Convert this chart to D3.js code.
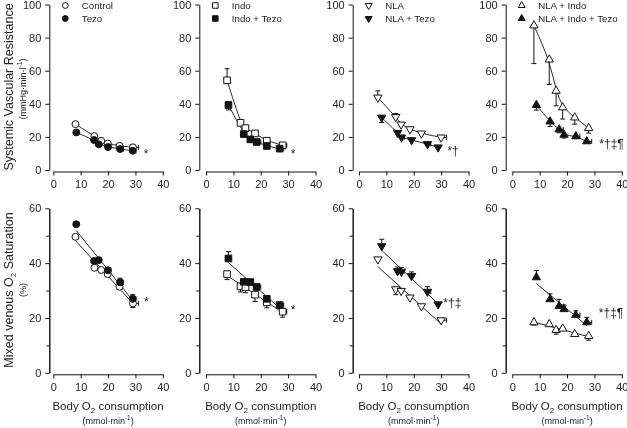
<!DOCTYPE html>
<html><head><meta charset="utf-8">
<script src="https://cdn.jsdelivr.net/npm/d3@7"></script>
<style>body{margin:0;background:#fff}svg{display:block}svg text{font-family:"Liberation Sans","DejaVu Sans",sans-serif;-webkit-font-smoothing:antialiased}</style>
</head><body><svg id="c" width="627" height="428"></svg>
<script>
// ---------- DATA ----------
const xTicks = [0, 10, 20, 30, 40];
const svrTicks = [0, 20, 40, 60, 80, 100];
const so2Ticks = [0, 20, 40, 60];
const so2Minor = [10, 30, 50];

const seriesNames = ['Control','Tezo','Indo','Indo + Tezo','NLA','NLA + Tezo','NLA + Indo','NLA + Indo + Tezo'];

// Body O2 consumption (mmol/min)
const vo2_control      = [8.1, 15.0, 17.5, 19.9, 24.2, 29.1];
const vo2_tezo         = [8.4, 14.9, 16.6, 20.0, 24.4, 29.0];
const vo2_indo         = [7.7, 12.6, 14.4, 17.9, 22.2, 28.0];
const vo2_indoTezo     = [8.2, 13.8, 16.2, 18.5, 22.2, 26.9];
const vo2_nla          = [6.9, 13.4, 15.4, 18.6, 22.8, 30.0];
const vo2_nlaTezo      = [8.3, 14.1, 15.5, 19.2, 25.0, 28.9];
const vo2_nlaIndo      = [7.9, 13.5, 16.0, 18.4, 22.8, 27.9];
const vo2_nlaIndoTezo  = [8.8, 13.8, 17.1, 18.9, 23.2, 27.2];

// Systemic vascular resistance (mmHg·min·l-1)
const svr_control      = [27.7, 20.5, 17.6, 16.0, 14.6, 13.7];
const svr_tezo         = [22.7, 18.1, 15.5, 13.9, 12.7, 11.6];
const svr_indo         = [54.2, 28.5, 25.3, 22.1, 17.7, 14.9];
const svr_indoTezo     = [39.3, 21.7, 18.5, 16.9, 14.5, 12.9];
const svr_nla          = [43.8, 32.1, 27.5, 24.7, 22.1, 19.7];
const svr_nlaTezo      = [31.7, 22.5, 19.7, 18.1, 15.7, 13.7];
const svr_nlaIndo      = [87.3, 66.7, 47.8, 37.8, 31.7, 25.3];
const svr_nlaIndoTezo  = [39.2, 29.3, 24.5, 21.3, 20.3, 17.3];

// Mixed venous O2 saturation (%)
const so2_control      = [49.6, 38.3, 37.5, 36.0, 31.4, 25.3];
const so2_tezo         = [54.2, 40.8, 41.1, 37.4, 33.0, 27.0];
const so2_indo         = [36.0, 31.5, 31.2, 28.5, 25.7, 22.3];
const so2_indoTezo     = [41.7, 33.2, 33.1, 31.3, 27.0, 24.7];
const so2_nla          = [41.4, 30.5, 29.9, 27.5, 24.3, 19.2];
const so2_nlaTezo      = [46.2, 37.1, 36.9, 35.3, 29.6, 25.0];
const so2_nlaIndo      = [18.4, 17.7, 15.6, 16.1, 14.1, 13.4];
const so2_nlaIndoTezo  = [34.8, 26.8, 24.3, 23.2, 21.1, 18.4];

// Error bars (signed: + up / right, - down)
const svrErr_control     = [0, 0, 0, 0, 0, 0];
const svrErr_tezo        = [0, 0, 0, 0, 0, 0];
const svrErr_indo        = [7, 2, 0, 0, 0, 0];
const svrErr_indoTezo    = [-3, 0, 0, 0, 0, 0];
const svrErr_nla         = [4, 2, 0, 0, 0, 0];
const svrErr_nlaTezo     = [-3, 0, 0, 0, 0, 0];
const svrErr_nlaIndo     = [-23, -15, -9, -7, -4, -3];
const svrErr_nlaIndoTezo = [-3, -3, -2, -2, -1, -1];

const so2Err_control     = [0, 0, 0, 0, 0, -1.5];
const so2Err_tezo        = [0, 0, 0, 0, 1.5, 1.5];
const so2Err_indo        = [-2, -2, -2, -2.5, -2, -2];
const so2Err_indoTezo    = [2.5, 0, 0, 0, 0, 0];
const so2Err_nla         = [0, -2, 0, 0, 0, 0];
const so2Err_nlaTezo     = [2.5, 1.5, 1.5, 1.5, 1.8, 0];
const so2Err_nlaIndo     = [-1, 0, -1.5, 0, 0, -1.5];
const so2Err_nlaIndoTezo = [2.5, 2, 2.5, 1.5, 1.5, 1.8];

const vo2Err_control     = [0, 0, 0, 0, 1, 2];
const vo2Err_tezo        = [0, 0, 0, 0, 1.2, 1.2];
const vo2Err_indo        = [0, 0, 0, 0, 0, 1.5];
const vo2Err_indoTezo    = [0, 0, 0, 1.5, 0, 1.5];
const vo2Err_nla         = [0, 0, 0, 0, 0, 2];
const vo2Err_nlaTezo     = [0, 0, 1, 0, 1.2, 0];
const vo2Err_nlaIndo     = [0, 0, 0, 0, 0, 0];
const vo2Err_nlaIndoTezo = [0, 0, 1.5, 0, 1.5, 1.8];

const sigLabels = ['*', '*', '*†', '*†‡¶'];
const sigLabelsBottom = ['*', '*', '*†‡', '*†‡¶'];
const sigPosTop = [[33.0, 7.0], [31.0, 7.0], [32.3, 9.0], [31.8, 13.3]];
const sigPosBot = [[33.1, 24.5], [31.0, 21.6], [30.8, 24.0], [31.6, 20.5]];

// ---------- BUILD ----------
function mk(vo2, svr, so2, se, oe, ve){
  return vo2.map((x,i)=>({x, svr:svr[i], so2:so2[i], svrE:se[i], so2E:oe[i], xE:ve[i]}));
}
const groups = [
  mk(vo2_control, svr_control, so2_control, svrErr_control, so2Err_control, vo2Err_control),
  mk(vo2_tezo, svr_tezo, so2_tezo, svrErr_tezo, so2Err_tezo, vo2Err_tezo),
  mk(vo2_indo, svr_indo, so2_indo, svrErr_indo, so2Err_indo, vo2Err_indo),
  mk(vo2_indoTezo, svr_indoTezo, so2_indoTezo, svrErr_indoTezo, so2Err_indoTezo, vo2Err_indoTezo),
  mk(vo2_nla, svr_nla, so2_nla, svrErr_nla, so2Err_nla, vo2Err_nla),
  mk(vo2_nlaTezo, svr_nlaTezo, so2_nlaTezo, svrErr_nlaTezo, so2Err_nlaTezo, vo2Err_nlaTezo),
  mk(vo2_nlaIndo, svr_nlaIndo, so2_nlaIndo, svrErr_nlaIndo, so2Err_nlaIndo, vo2Err_nlaIndo),
  mk(vo2_nlaIndoTezo, svr_nlaIndoTezo, so2_nlaIndoTezo, svrErr_nlaIndoTezo, so2Err_nlaIndoTezo, vo2Err_nlaIndoTezo)
];
const shapes = ['circle','square','down','up'];

const FONT = '"Liberation Sans","DejaVu Sans",sans-serif';
const root = d3.select('#c').append('g').attr('opacity', 0.99);
const svg = root;
const INK = '#111';
const TXT = '#222';
const yAxisX = [49.3, 199.3, 352.7, 505.7];
const x0s = [53.3, 206, 359, 512.3];
const W = 109.5;
const rows = [
  {key:'svr', y0:170, y1:4.5, dom:[0,100], ticks:svrTicks, minor:[], err:'svrE'},
  {key:'so2', y0:372.8, y1:208.3, dom:[0,60], ticks:so2Ticks, minor:so2Minor, err:'so2E'}
];

function symbolPath(shape, legend){
  const k = legend ? 0.7 : 1;
  if (shape==='circle') return d3.symbol(d3.symbolCircle, 38*k)();
  if (shape==='square') return d3.symbol(d3.symbolSquare, 44*k)();
  return d3.symbol(d3.symbolTriangle, 30*k)();
}
function drawMarker(g, shape, filled, cx, cy, legend){
  g.append('path').attr('d', symbolPath(shape, legend))
    .attr('transform', `translate(${cx},${cy})` + (shape==='down' ? ' rotate(180)' : ''))
    .attr('fill', filled ? INK : '#fff').attr('stroke', INK).attr('stroke-width', 1);
}
function styleAxis(g, fs){
  g.attr('font-family', FONT);
  g.selectAll('text').attr('font-family', FONT).attr('font-size', fs).attr('fill', TXT);
  g.selectAll('line').attr('stroke', INK);
  g.select('.domain').attr('stroke', INK);
}

rows.forEach((row, r) => {
  for (let p = 0; p < 4; p++) {
    const x = d3.scaleLinear().domain([0,40]).range([x0s[p], x0s[p]+W]);
    const y = d3.scaleLinear().domain(row.dom).range([row.y0, row.y1]);
    const g = svg.append('g');
    // axes
    const ya = g.append('g').attr('transform', `translate(${yAxisX[p]},0)`)
      .call(d3.axisLeft(y).tickValues(row.ticks).tickSize(4).tickSizeOuter(0).tickPadding(4));
    styleAxis(ya, 11);
    if (row.minor.length) {
      const ym = g.append('g').attr('transform', `translate(${yAxisX[p]},0)`)
        .call(d3.axisLeft(y).tickValues(row.minor).tickSize(3).tickSizeOuter(0).tickFormat(''));
      styleAxis(ym, 11);
    }
    const xa = g.append('g').attr('transform', `translate(0,${row.y0+1.5})`)
      .call(d3.axisBottom(x).tickValues(xTicks).tickSize(4).tickSizeOuter(0).tickPadding(5));
    styleAxis(xa, 11);

    const open = groups[p*2], filled = groups[p*2+1];
    // fit lines
    [open, filled].forEach(gr => {
      if (r === 0) {
        const pts = gr.slice().sort((a,b)=>a.x-b.x);
        g.append('path').attr('d', d3.line().curve(d3.curveBasis).x(d=>x(d.x)).y(d=>y(d.svr))(pts))
          .attr('fill','none').attr('stroke', INK).attr('stroke-width', 0.9);
      } else {
        const mx = d3.mean(gr, d=>d.x), my = d3.mean(gr, d=>d.so2);
        const b = d3.sum(gr, d=>(d.x-mx)*(d.so2-my)) / d3.sum(gr, d=>(d.x-mx)**2);
        const a = my - b*mx;
        const xs = d3.extent(gr, d=>d.x);
        g.append('line').attr('x1', x(xs[0])).attr('x2', x(xs[1]))
          .attr('y1', y(a+b*xs[0])).attr('y2', y(a+b*xs[1]))
          .attr('stroke', INK).attr('stroke-width', 0.9);
      }
    });
    // error bars
    [open, filled].forEach(gr => {
      gr.forEach(d => {
        const v = d[row.key], e = d[row.err];
        if (e) {
          g.append('line').attr('x1', x(d.x)).attr('x2', x(d.x)).attr('y1', y(v)).attr('y2', y(v+e)).attr('stroke', INK);
          g.append('line').attr('x1', x(d.x)-2.5).attr('x2', x(d.x)+2.5).attr('y1', y(v+e)).attr('y2', y(v+e)).attr('stroke', INK);
        }
        if (d.xE) {
          g.append('line').attr('x1', x(d.x)).attr('x2', x(d.x+d.xE)).attr('y1', y(v)).attr('y2', y(v)).attr('stroke', INK);
          g.append('line').attr('x1', x(d.x+d.xE)).attr('x2', x(d.x+d.xE)).attr('y1', y(v)-2.5).attr('y2', y(v)+2.5).attr('stroke', INK);
        }
      });
    });
    // markers
    open.forEach(d => drawMarker(g, shapes[p], false, x(d.x), y(d[row.key])));
    filled.forEach(d => drawMarker(g, shapes[p], true, x(d.x), y(d[row.key])));

    // significance
    const sp = r === 0 ? sigPosTop[p] : sigPosBot[p];
    g.append('text').attr('x', x(sp[0])).attr('y', y(sp[1]))
      .attr('font-family', FONT).attr('font-size', 12).attr('fill', TXT)
      .text(r === 0 ? sigLabels[p] : sigLabelsBottom[p]);

    if (r === 0) {
      // legend
      const mx = yAxisX[p] + 16;
      [[5.5, false, seriesNames[p*2]], [18.5, true, seriesNames[p*2+1]]].forEach(([ly, f, name]) => {
        drawMarker(g, shapes[p], f, mx, ly, true);
        g.append('text').attr('x', mx + 16.5).attr('y', ly + 3.6).attr('font-family', FONT)
          .attr('font-size', 9.7).attr('fill', TXT).text(name);
      });
    } else {
      // x axis titles
      const cx = x0s[p] + W/2;
      const t = g.append('text').attr('x', cx).attr('y', 409.5).attr('text-anchor','middle')
        .attr('font-family', FONT).attr('font-size', 11.5).attr('fill', TXT);
      t.append('tspan').text('Body O');
      t.append('tspan').attr('font-size', 8).attr('dy', 3).text('2');
      t.append('tspan').attr('dy', -3).text(' consumption');
      const u = g.append('text').attr('x', cx).attr('y', 424).attr('text-anchor','middle')
        .attr('font-family', FONT).attr('font-size', 9).attr('fill', TXT);
      u.append('tspan').text('(mmol·min');
      u.append('tspan').attr('font-size', 6.5).attr('dy', -4).text('-1');
      u.append('tspan').attr('dy', 4).text(')');
    }
  }
});

// y axis titles
svg.append('text').attr('transform', 'translate(13,87) rotate(-90)').attr('text-anchor','middle')
  .attr('font-family', FONT).attr('font-size', 12.5).attr('fill', TXT).text('Systemic Vascular Resistance');
const ys1 = svg.append('text').attr('transform', 'translate(26,89) rotate(-90)').attr('text-anchor','middle')
  .attr('font-family', FONT).attr('font-size', 9).attr('fill', TXT);
ys1.append('tspan').text('(mmHg·min·l');
ys1.append('tspan').attr('font-size', 6.5).attr('dy', -4).text('-1');
ys1.append('tspan').attr('dy', 4).text(')');

const yt2 = svg.append('text').attr('transform', 'translate(13,290) rotate(-90)').attr('text-anchor','middle')
  .attr('font-family', FONT).attr('font-size', 12.5).attr('fill', TXT);
yt2.append('tspan').text('Mixed venous O');
yt2.append('tspan').attr('font-size', 8).attr('dy', 3).text('2');
yt2.append('tspan').attr('dy', -3).text(' Saturation');
svg.append('text').attr('transform', 'translate(26,290) rotate(-90)').attr('text-anchor','middle')
  .attr('font-family', FONT).attr('font-size', 9).attr('fill', TXT).text('(%)');
</script></body></html>
